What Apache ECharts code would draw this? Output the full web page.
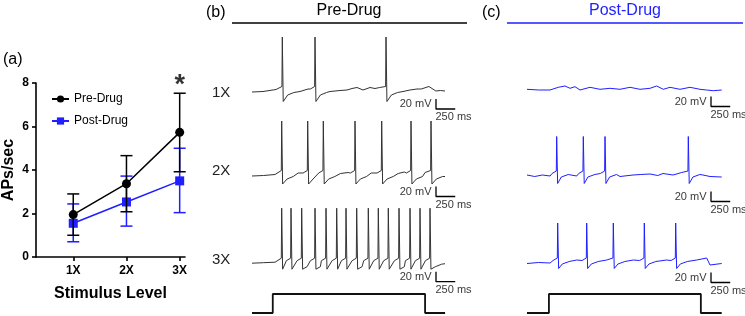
<!DOCTYPE html>
<html><head><meta charset="utf-8">
<script src="https://cdn.jsdelivr.net/npm/echarts@6/dist/echarts.min.js"></script>
<style>html,body{margin:0;padding:0;background:#fff}#c{width:745px;height:316px}</style>
</head><body><div id="c"></div>
<script>
// ---------- Panel (a) data ----------
const categories = ['1X', '2X', '3X'];
const preMean = [1.95, 3.37, 5.73];
const preErrLow = [1.00, 2.08, 3.92];
const preErrHigh = [2.90, 4.66, 7.53];
const postMean = [1.55, 2.53, 3.50];
const postErrLow = [0.70, 1.42, 2.04];
const postErrHigh = [2.44, 3.72, 5.00];
const significance = ['', '', '*'];
const yTickValues = [0, 2, 4, 6, 8];

// ---------- Panels (b)/(c) trace data (time in ms, voltage in mV) ----------
const rowLabels = ['1X', '2X', '3X'];
const preSpikes1X = [394, 819, 1742];
const preSpikes2X = [386, 724, 927, 1339, 1686, 2067, 2327];
const preSpikes3X = [386, 507, 646, 819, 962, 1101, 1222, 1361, 1512, 1642, 1772, 1911, 2054, 2184, 2314];
const postSpikes1X = [];
const postSpikes2X = [386, 732, 1014, 2097];
const postSpikes3X = [399, 776, 1122, 1525, 1933];
const prePeakMv = [48, 48, 49];
const preTroughMv = [-81, -78, -73];
const postPeakMv = [0, 19, 20];
const postTroughMv = [0, -75, -71];
const preBeforeSpike = [[-60, -56], [-5, -51]];
const preAfterSpike = [[70, -68], [150, -63]];
const postBeforeSpike = [[-60, -55], [-5, -50]];
const postAfterSpike = [[60, -62], [150, -57]];
const preBase1X = [[0, -62], [143, -61], [312, -57], [624, -61], [728, -56], [1014, -61], [1144, -59], [1235, -58], [1300, -55], [1365, -53], [1443, -58], [1534, -53], [1599, -55], [1660, -53], [1963, -61], [2054, -58], [2145, -56], [2200, -56], [2300, -51], [2390, -60], [2450, -59], [2509, -60]];
const preBase2X = [[0, -62], [150, -61], [300, -59], [600, -56], [1150, -57], [1250, -55], [1550, -56], [1900, -57], [1980, -54], [2250, -55], [2509, -63]];
const preBase3X = [[0, -61], [150, -60], [300, -59], [2509, -62]];
const postBase1X = [[0, -58.6], [150, -60], [299, -60], [407, -54.6], [494, -52], [559, -56.6], [624, -53.4], [689, -60], [819, -54.6], [949, -58.6], [1079, -56.6], [1209, -58.6], [1339, -54.6], [1469, -58.6], [1599, -56.6], [1686, -52], [1772, -58.6], [1859, -54.6], [1989, -58.6], [2119, -54.6], [2249, -58.6], [2336, -60], [2423, -61.4], [2531, -60]];
const postBase2X = [[0, -58], [100, -61], [200, -58], [300, -60], [646, -60], [1209, -61], [1378, -58], [1480, -57], [1599, -56], [1700, -59], [1768, -55], [1898, -58], [2011, -53], [2288, -58], [2379, -61], [2531, -62]];
const postBase3X = [[0, -61], [150, -59], [300, -60], [646, -54], [1036, -54], [1382, -54], [1815, -54], [2206, -54], [2336, -50], [2379, -64], [2531, -61]];
const preStim = [0, 270, 2250, 2510];   // start, on, off, end (ms)
const postStim = [0, 285, 2260, 2531];
const scaleBarMs = 250;
const scaleBarMv = 20;

// ---------- layout / style (not data) ----------
const FONT = '"Liberation Sans", Arial, sans-serif';
const BLUE = '#1f1fff';
const MS_PER_PX = 13;
const T_MAX = 2800;
const traceW = T_MAX / MS_PER_PX;
const traceRows = [
  {col: 'pre', left: 252, base: 91, spikes: preSpikes1X, peak: prePeakMv[0], trough: preTroughMv[0], baseLine: preBase1X, bar: [2392, -96]},
  {col: 'pre', left: 252, base: 175, spikes: preSpikes2X, peak: prePeakMv[1], trough: preTroughMv[1], baseLine: preBase2X, bar: [2392, -103]},
  {col: 'pre', left: 252, base: 262.7, spikes: preSpikes3X, peak: prePeakMv[2], trough: preTroughMv[2], baseLine: preBase3X, bar: [2392, -98]},
  {col: 'post', left: 527, base: 90, spikes: postSpikes1X, peak: postPeakMv[0], trough: postTroughMv[0], baseLine: postBase1X, bar: [2392, -93]},
  {col: 'post', left: 527, base: 176, spikes: postSpikes2X, peak: postPeakMv[1], trough: postTroughMv[1], baseLine: postBase2X, bar: [2392, -111]},
  {col: 'post', left: 527, base: 263, spikes: postSpikes3X, peak: postPeakMv[2], trough: postTroughMv[2], baseLine: postBase3X, bar: [2392, -99]}
];

function buildTrace(spikes, peak, trough, base, before, after) {
  const pts = [];
  spikes.forEach((t, i) => {
    const prev = i > 0 ? spikes[i - 1] : -Infinity;
    const next = i < spikes.length - 1 ? spikes[i + 1] : Infinity;
    before.forEach(([dt, v]) => { if (t + dt > prev + 20) pts.push([t + dt, v]); });
    pts.push([t, peak]);
    pts.push([t + 12, trough]);
    after.forEach(([dt, v]) => { if (t + dt < next - 70) pts.push([t + dt, v]); });
  });
  base.forEach(([t, v]) => {
    if (!spikes.some(s => t > s - 70 && t < s + 160)) pts.push([t, v]);
  });
  pts.sort((a, b) => a[0] - b[0]);
  return pts;
}

const grids = [{left: 36, top: 83, width: 149, height: 174}];
const xAxes = [{
  gridIndex: 0, type: 'value', min: 0.3, max: 3.1,
  axisLine: {onZero: false, lineStyle: {color: '#000', width: 1.6}},
  axisTick: {customValues: [1, 2, 3], length: 4, lineStyle: {color: '#000', width: 1.6}},
  axisLabel: {customValues: [1, 2, 3], formatter: v => categories[Math.round(v) - 1], fontWeight: 'bold', fontSize: 12, color: '#000', margin: 8, fontFamily: FONT},
  splitLine: {show: false},
  name: 'Stimulus Level', nameLocation: 'middle', nameGap: 29,
  nameTextStyle: {fontWeight: 'bold', fontSize: 16, color: '#000', fontFamily: FONT}
}];
const yAxes = [{
  gridIndex: 0, type: 'value', min: 0, max: 8, interval: 2,
  axisLine: {show: true, onZero: false, lineStyle: {color: '#000', width: 1.6}},
  axisTick: {show: true, length: 4, lineStyle: {color: '#000', width: 1.6}},
  axisLabel: {customValues: yTickValues, fontWeight: 'bold', fontSize: 12, color: '#000', margin: 7, fontFamily: FONT},
  splitLine: {show: false},
  name: 'APs/sec', nameLocation: 'middle', nameGap: 19,
  nameTextStyle: {fontWeight: 'bold', fontSize: 16, color: '#000', fontFamily: FONT}
}];

function errRender(color) {
  return function (params, api) {
    const x = api.value(0), lo = api.value(1), hi = api.value(2);
    const p1 = api.coord([x, hi]), p2 = api.coord([x, lo]);
    const hw = 6;
    const st = {stroke: color, lineWidth: 1.5};
    return {type: 'group', children: [
      {type: 'line', shape: {x1: p1[0], y1: p1[1], x2: p2[0], y2: p2[1]}, style: st},
      {type: 'line', shape: {x1: p1[0] - hw, y1: p1[1], x2: p1[0] + hw, y2: p1[1]}, style: st},
      {type: 'line', shape: {x1: p2[0] - hw, y1: p2[1], x2: p2[0] + hw, y2: p2[1]}, style: st}
    ]};
  };
}

const series = [
  {type: 'custom', xAxisIndex: 0, yAxisIndex: 0, renderItem: errRender(BLUE), encode: {x: 0, y: [1, 2]},
   data: categories.map((c, i) => [i + 1, postErrLow[i], postErrHigh[i]]), z: 2, silent: true},
  {type: 'line', name: 'Post-Drug', xAxisIndex: 0, yAxisIndex: 0, symbol: 'rect', symbolSize: 9,
   itemStyle: {color: BLUE}, lineStyle: {color: BLUE, width: 1.5},
   data: categories.map((c, i) => [i + 1, postMean[i]]), z: 3},
  {type: 'custom', xAxisIndex: 0, yAxisIndex: 0, renderItem: errRender('#000'), encode: {x: 0, y: [1, 2]},
   data: categories.map((c, i) => [i + 1, preErrLow[i], preErrHigh[i]]), z: 4, silent: true},
  {type: 'line', name: 'Pre-Drug', xAxisIndex: 0, yAxisIndex: 0, symbol: 'circle', symbolSize: 9,
   itemStyle: {color: '#000'}, lineStyle: {color: '#000', width: 1.5},
   data: categories.map((c, i) => [i + 1, preMean[i]]), z: 5},
  {type: 'scatter', xAxisIndex: 0, yAxisIndex: 0, symbolSize: 1, itemStyle: {color: 'rgba(0,0,0,0)'},
   clip: false, silent: true,
   data: categories.map((c, i) => ({value: [i + 1, preErrHigh[i]], label: {formatter: significance[i]}})),
   label: {show: true, position: 'top', distance: -6, fontSize: 27, fontWeight: 'bold', color: '#000', fontFamily: FONT}}
];

traceRows.forEach((r, k) => {
  const gi = grids.length;
  grids.push({left: r.left, top: r.base - 60, width: traceW, height: 90});
  xAxes.push({gridIndex: gi, type: 'value', min: 0, max: T_MAX, show: false});
  yAxes.push({gridIndex: gi, type: 'value', min: -120, max: 60, show: false});
  const isPre = r.col === 'pre';
  const color = isPre ? '#333' : BLUE;
  series.push({type: 'line', xAxisIndex: gi, yAxisIndex: gi, symbol: 'none', silent: true,
    lineStyle: {color: color, width: 1}, clip: false,
    data: buildTrace(r.spikes, r.peak, r.trough, r.baseLine,
      isPre ? preBeforeSpike : postBeforeSpike, isPre ? preAfterSpike : postAfterSpike)});
  const [tc, vc] = r.bar;
  series.push({type: 'line', xAxisIndex: gi, yAxisIndex: gi, symbol: 'none', silent: true, clip: false,
    lineStyle: {color: '#000', width: 1.3},
    data: [[tc, vc + scaleBarMv], [tc, vc], [tc + scaleBarMs, vc]]});
  series.push({type: 'scatter', xAxisIndex: gi, yAxisIndex: gi, symbolSize: 1, silent: true, clip: false,
    itemStyle: {color: 'rgba(0,0,0,0)'},
    data: [
      {value: [tc, vc + scaleBarMv / 2], label: {show: true, formatter: scaleBarMv + ' mV', position: 'left', distance: 4}},
      {value: [tc, vc], label: {show: true, formatter: scaleBarMs + ' ms', position: [0, 3], align: 'left', verticalAlign: 'top'}}
    ],
    label: {fontSize: 11, color: '#000', fontFamily: FONT}});
});

[[252, preStim], [527, postStim]].forEach(([left, s]) => {
  const gi = grids.length;
  grids.push({left: left, top: 294, width: traceW, height: 19});
  xAxes.push({gridIndex: gi, type: 'value', min: 0, max: T_MAX, show: false});
  yAxes.push({gridIndex: gi, type: 'value', min: 0, max: 1, show: false});
  series.push({type: 'line', xAxisIndex: gi, yAxisIndex: gi, symbol: 'none', silent: true, clip: false,
    lineStyle: {color: '#111', width: 1.8},
    data: [[s[0], 0], [s[1], 0], [s[1], 1], [s[2], 1], [s[2], 0], [s[3], 0]]});
});

const graphic = [
  {type: 'text', left: 3, top: 52, style: {text: '(a)', font: '16px ' + FONT, fill: '#000'}},
  {type: 'text', left: 206, top: 5, style: {text: '(b)', font: '16px ' + FONT, fill: '#000'}},
  {type: 'text', left: 482, top: 5, style: {text: '(c)', font: '16px ' + FONT, fill: '#000'}},
  {type: 'text', x: 349, y: 11, style: {text: 'Pre-Drug', font: '16px ' + FONT, fill: '#000', textAlign: 'center', textVerticalAlign: 'middle'}},
  {type: 'text', x: 625, y: 11, style: {text: 'Post-Drug', font: '16px ' + FONT, fill: BLUE, textAlign: 'center', textVerticalAlign: 'middle'}},
  {type: 'line', shape: {x1: 232, y1: 23, x2: 467, y2: 23}, style: {stroke: '#000', lineWidth: 1.5}},
  {type: 'line', shape: {x1: 507, y1: 23, x2: 743, y2: 23}, style: {stroke: BLUE, lineWidth: 1.5}}
];
[92.5, 171, 260].forEach((y, i) => {
  graphic.push({type: 'text', x: 212, y: y, style: {text: rowLabels[i], font: '15px ' + FONT, fill: '#222', textVerticalAlign: 'middle'}});
});

const chart = echarts.init(document.getElementById('c'), null, {renderer: 'canvas'});
chart.setOption({
  animation: false,
  backgroundColor: '#fff',
  textStyle: {fontFamily: FONT},
  grid: grids, xAxis: xAxes, yAxis: yAxes, series: series, graphic: graphic,
  legend: {data: ['Pre-Drug', 'Post-Drug'], orient: 'vertical', left: 46, top: 88,
    itemWidth: 17, itemHeight: 9, itemGap: 10, selectedMode: false,
    textStyle: {fontSize: 12, color: '#000', fontFamily: FONT}}
});
</script></body></html>
